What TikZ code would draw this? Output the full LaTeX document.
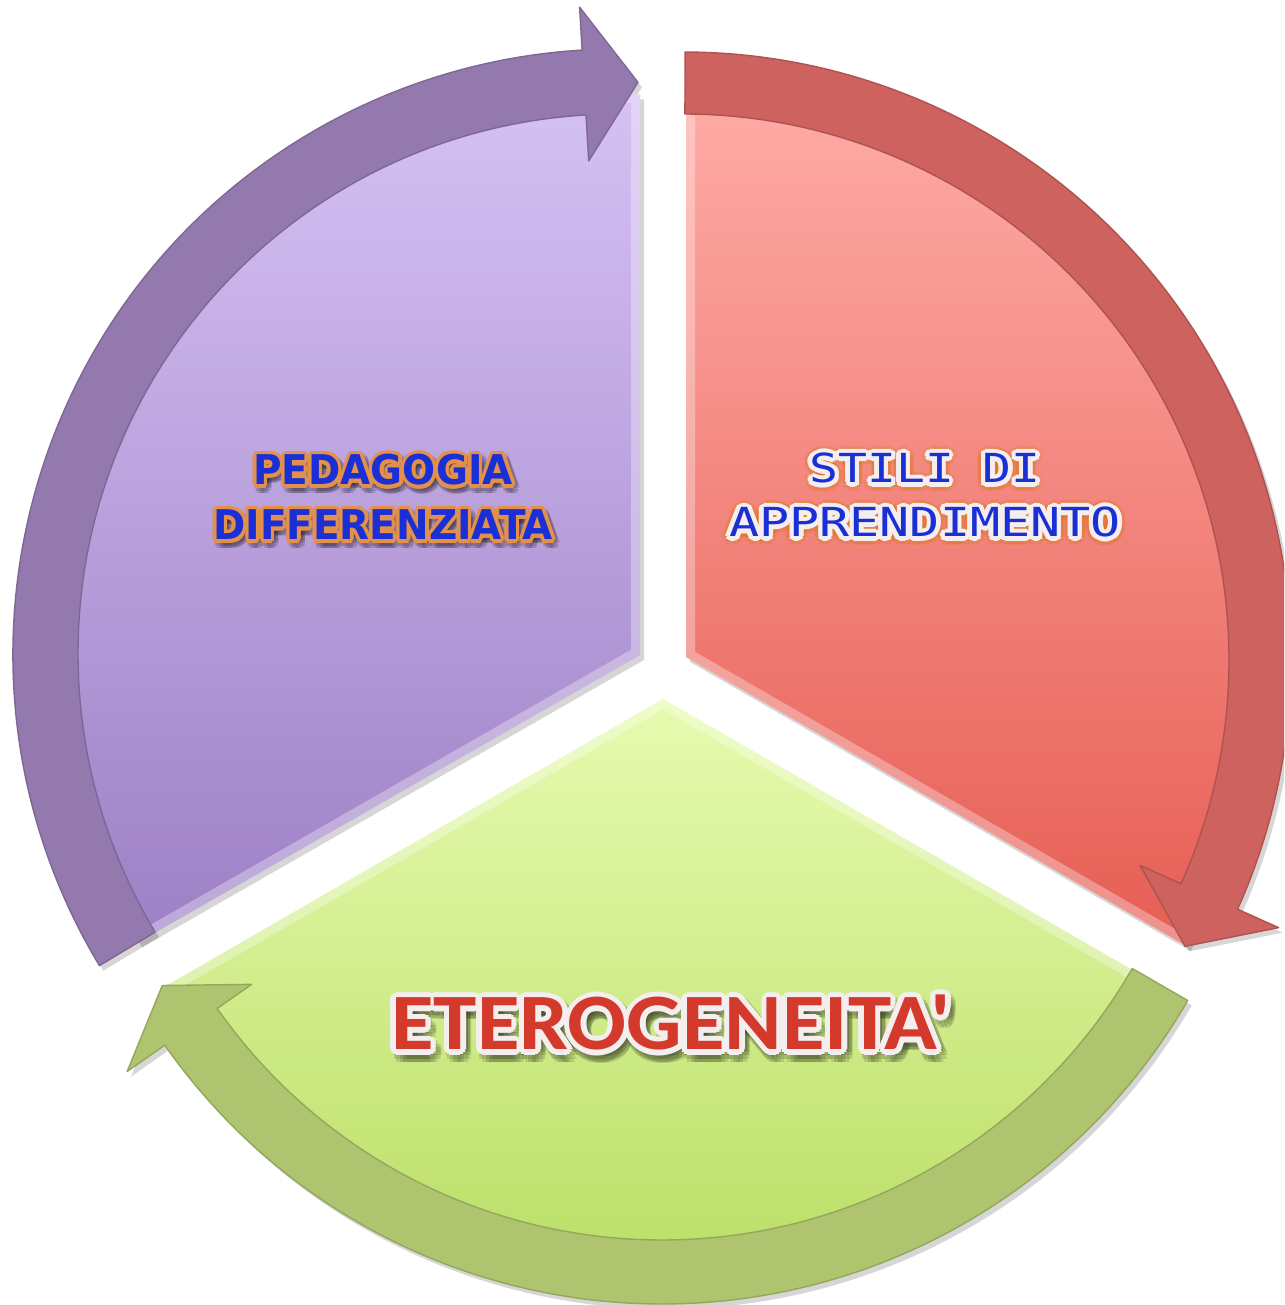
\documentclass[tikz,border=0pt]{standalone}
\usepackage{fontspec}
\usepackage{graphicx}
\newfontfamily\carlito{Carlito}
\newfontfamily\djv{DejaVu Sans}
\newfontfamily\djvmono{DejaVu Sans Mono}
\definecolor{purBand}{HTML}{9479AF}
\definecolor{purTop}{HTML}{D6C2F4}
\definecolor{purBot}{HTML}{9D80C5}
\definecolor{redBand}{HTML}{CD625E}
\definecolor{redTop}{HTML}{FFACA7}
\definecolor{redBot}{HTML}{E65E54}
\definecolor{grnBand}{HTML}{AEC46E}
\definecolor{grnTop}{HTML}{E7FBB0}
\definecolor{grnBot}{HTML}{B4DA5C}
\definecolor{txtBlue}{HTML}{1A30D6}
\definecolor{glowOr}{HTML}{E3904A}
\definecolor{glowDeep}{HTML}{E07418}
\definecolor{txtRed}{HTML}{D43A2C}
\definecolor{haloW}{HTML}{F4EEEE}
\newcommand\halolayer[5]{\foreach \a in {0,30,...,330}{\node[#3] (#1\a) at ([shift={(\a:#4)}]#2) {#5};}}
\newcommand\tPedA{\scalebox{0.95}[1]{PEDAGOGIA}}
\newcommand\tPedB{\scalebox{0.95}[1]{DIFFERENZIATA}}
\newcommand\tStiA{\scalebox{1.2}[1]{STILI DI}}
\newcommand\tStiB{\scalebox{1.25}[1]{APPRENDIMENTO}}
\newcommand\tEte{\scalebox{1.09}[1]{ETEROGENEITA\symbol{39}}}
\begin{document}
\begin{tikzpicture}[x=0.5pt,y=0.5pt,
  band/.style={fill=#1, draw=#1!85!black, line width=0.7pt, line join=round},
  shadowfill/.style={fill=black, opacity=0.16},
  bevel/.style={draw=white, opacity=0.32, line width=9pt},
  pedf/.style={font=\djv\bfseries\fontsize{20.5}{24}\selectfont, anchor=base, inner sep=0pt},
  stif/.style={font=\djvmono\fontsize{20}{24}\selectfont, anchor=base, inner sep=0pt},
  etef/.style={font=\carlito\bfseries\fontsize{40}{48}\selectfont, anchor=base, inner sep=0pt},
]
\useasboundingbox (0,0) rectangle (1284,1305);
\clip (0,0) rectangle (1284,1305);
\fill[white] (0,0) rectangle (1284,1305);

\def\purSector{(640,650) -- (640,1210.6) arc[start angle=87.75,end angle=211,radius=560] -- cycle}
\def\redSector{(686,648) -- ([shift={(686,648)}]90:578) arc[start angle=90,end angle=-30,radius=578] -- cycle}
\def\grnSector{(663,606) -- ([shift={(663,606)}]210:577) arc[start angle=210,end angle=330,radius=577] -- cycle}

\def\purBandPath{([shift={(618,651)}]211:605) arc[start angle=211,end angle=93.4,radius=605]
  -- ([shift={(618,651)}]93.4:648) -- ([shift={(618,651)}]88:572) -- ([shift={(618,651)}]93.4:494)
  -- ([shift={(618,651)}]93.4:540) arc[start angle=93.4,end angle=211,radius=540] -- cycle}
\def\redBandPath{([shift={(683,645)}]89.8:608) arc[start angle=89.8,end angle=-24.2,radius=608]
  -- ([shift={(683,645)}]-24.2:653) -- ([shift={(683,645)}]-29.7:578) -- ([shift={(683,645)}]-24.2:501)
  -- ([shift={(683,645)}]-24.2:546) arc[start angle=-24.2,end angle=89.8,radius=546] -- cycle}
\def\grnBandPath{([shift={(662,608)}]-30:607) arc[start angle=-30,end angle=-145,radius=607]
  -- ([shift={(662,608)}]-145:653) -- ([shift={(662,608)}]-150:577) -- ([shift={(662,608)}]-145:501)
  -- ([shift={(662,608)}]-145:543) arc[start angle=-145,end angle=-30,radius=543] -- cycle}

% shadows
\begin{scope}[shift={(4,-5)}]
  \fill[shadowfill] \purSector;
  \fill[shadowfill] \redSector;
  \fill[shadowfill] \grnSector;
  \fill[shadowfill] \purBandPath;
  \fill[shadowfill] \redBandPath;
  \fill[shadowfill] \grnBandPath;
\end{scope}

% purple
\shade[top color=purTop,bottom color=purBot] \purSector;
\begin{scope}\clip \purSector; \draw[bevel] \purSector; \end{scope}
\path[band=purBand] \purBandPath;

% red
\shade[top color=redTop,bottom color=redBot] \redSector;
\begin{scope}\clip \redSector; \draw[bevel] \redSector; \end{scope}
\path[band=redBand] \redBandPath;

% green
\shade[top color=grnTop,bottom color=grnBot] \grnSector;
\begin{scope}\clip \grnSector; \draw[bevel] \grnSector; \end{scope}
\path[band=grnBand] \grnBandPath;

% PEDAGOGIA DIFFERENZIATA
\halolayer{pedAs}{386,816}{pedf,text=black,opacity=0.12}{5}{\tPedA}
\halolayer{pedBs}{386,761}{pedf,text=black,opacity=0.12}{5}{\tPedB}
\halolayer{pedAo}{383,820}{pedf,text=glowOr}{3.5}{\tPedA}
\halolayer{pedBo}{383,765}{pedf,text=glowOr}{3.5}{\tPedB}
\halolayer{pedAi}{383,820}{pedf,text=glowOr}{1.8}{\tPedA}
\halolayer{pedBi}{383,765}{pedf,text=glowOr}{1.8}{\tPedB}
\node[pedf,text=txtBlue] (pedA) at (383,820) {\tPedA};
\node[pedf,text=txtBlue] (pedB) at (383,765) {\tPedB};

% STILI DI APPRENDIMENTO
\halolayer{stiAg}{925,821}{stif,text=glowDeep,opacity=0.22}{8}{\tStiA}
\halolayer{stiBg}{925,767}{stif,text=glowDeep,opacity=0.22}{8}{\tStiB}
\halolayer{stiAo}{925,822}{stif,text=haloW}{4.5}{\tStiA}
\halolayer{stiBo}{925,768}{stif,text=haloW}{4.5}{\tStiB}
\halolayer{stiAi}{925,822}{stif,text=haloW}{2.2}{\tStiA}
\halolayer{stiBi}{925,768}{stif,text=haloW}{2.2}{\tStiB}
\node[stif,text=txtBlue] (stiA) at (925,822) {\tStiA};
\node[stif,text=txtBlue] (stiB) at (925,768) {\tStiB};

% ETEROGENEITA'
\halolayer{eteS}{675,249}{etef,text=black,opacity=0.12}{7}{\tEte}
\halolayer{eteO}{671,255}{etef,text=haloW}{5.5}{\tEte}
\halolayer{eteI}{671,255}{etef,text=haloW}{2.8}{\tEte}
\node[etef,text=txtRed] (ete) at (671,255) {\tEte};
\end{tikzpicture}
\end{document}
